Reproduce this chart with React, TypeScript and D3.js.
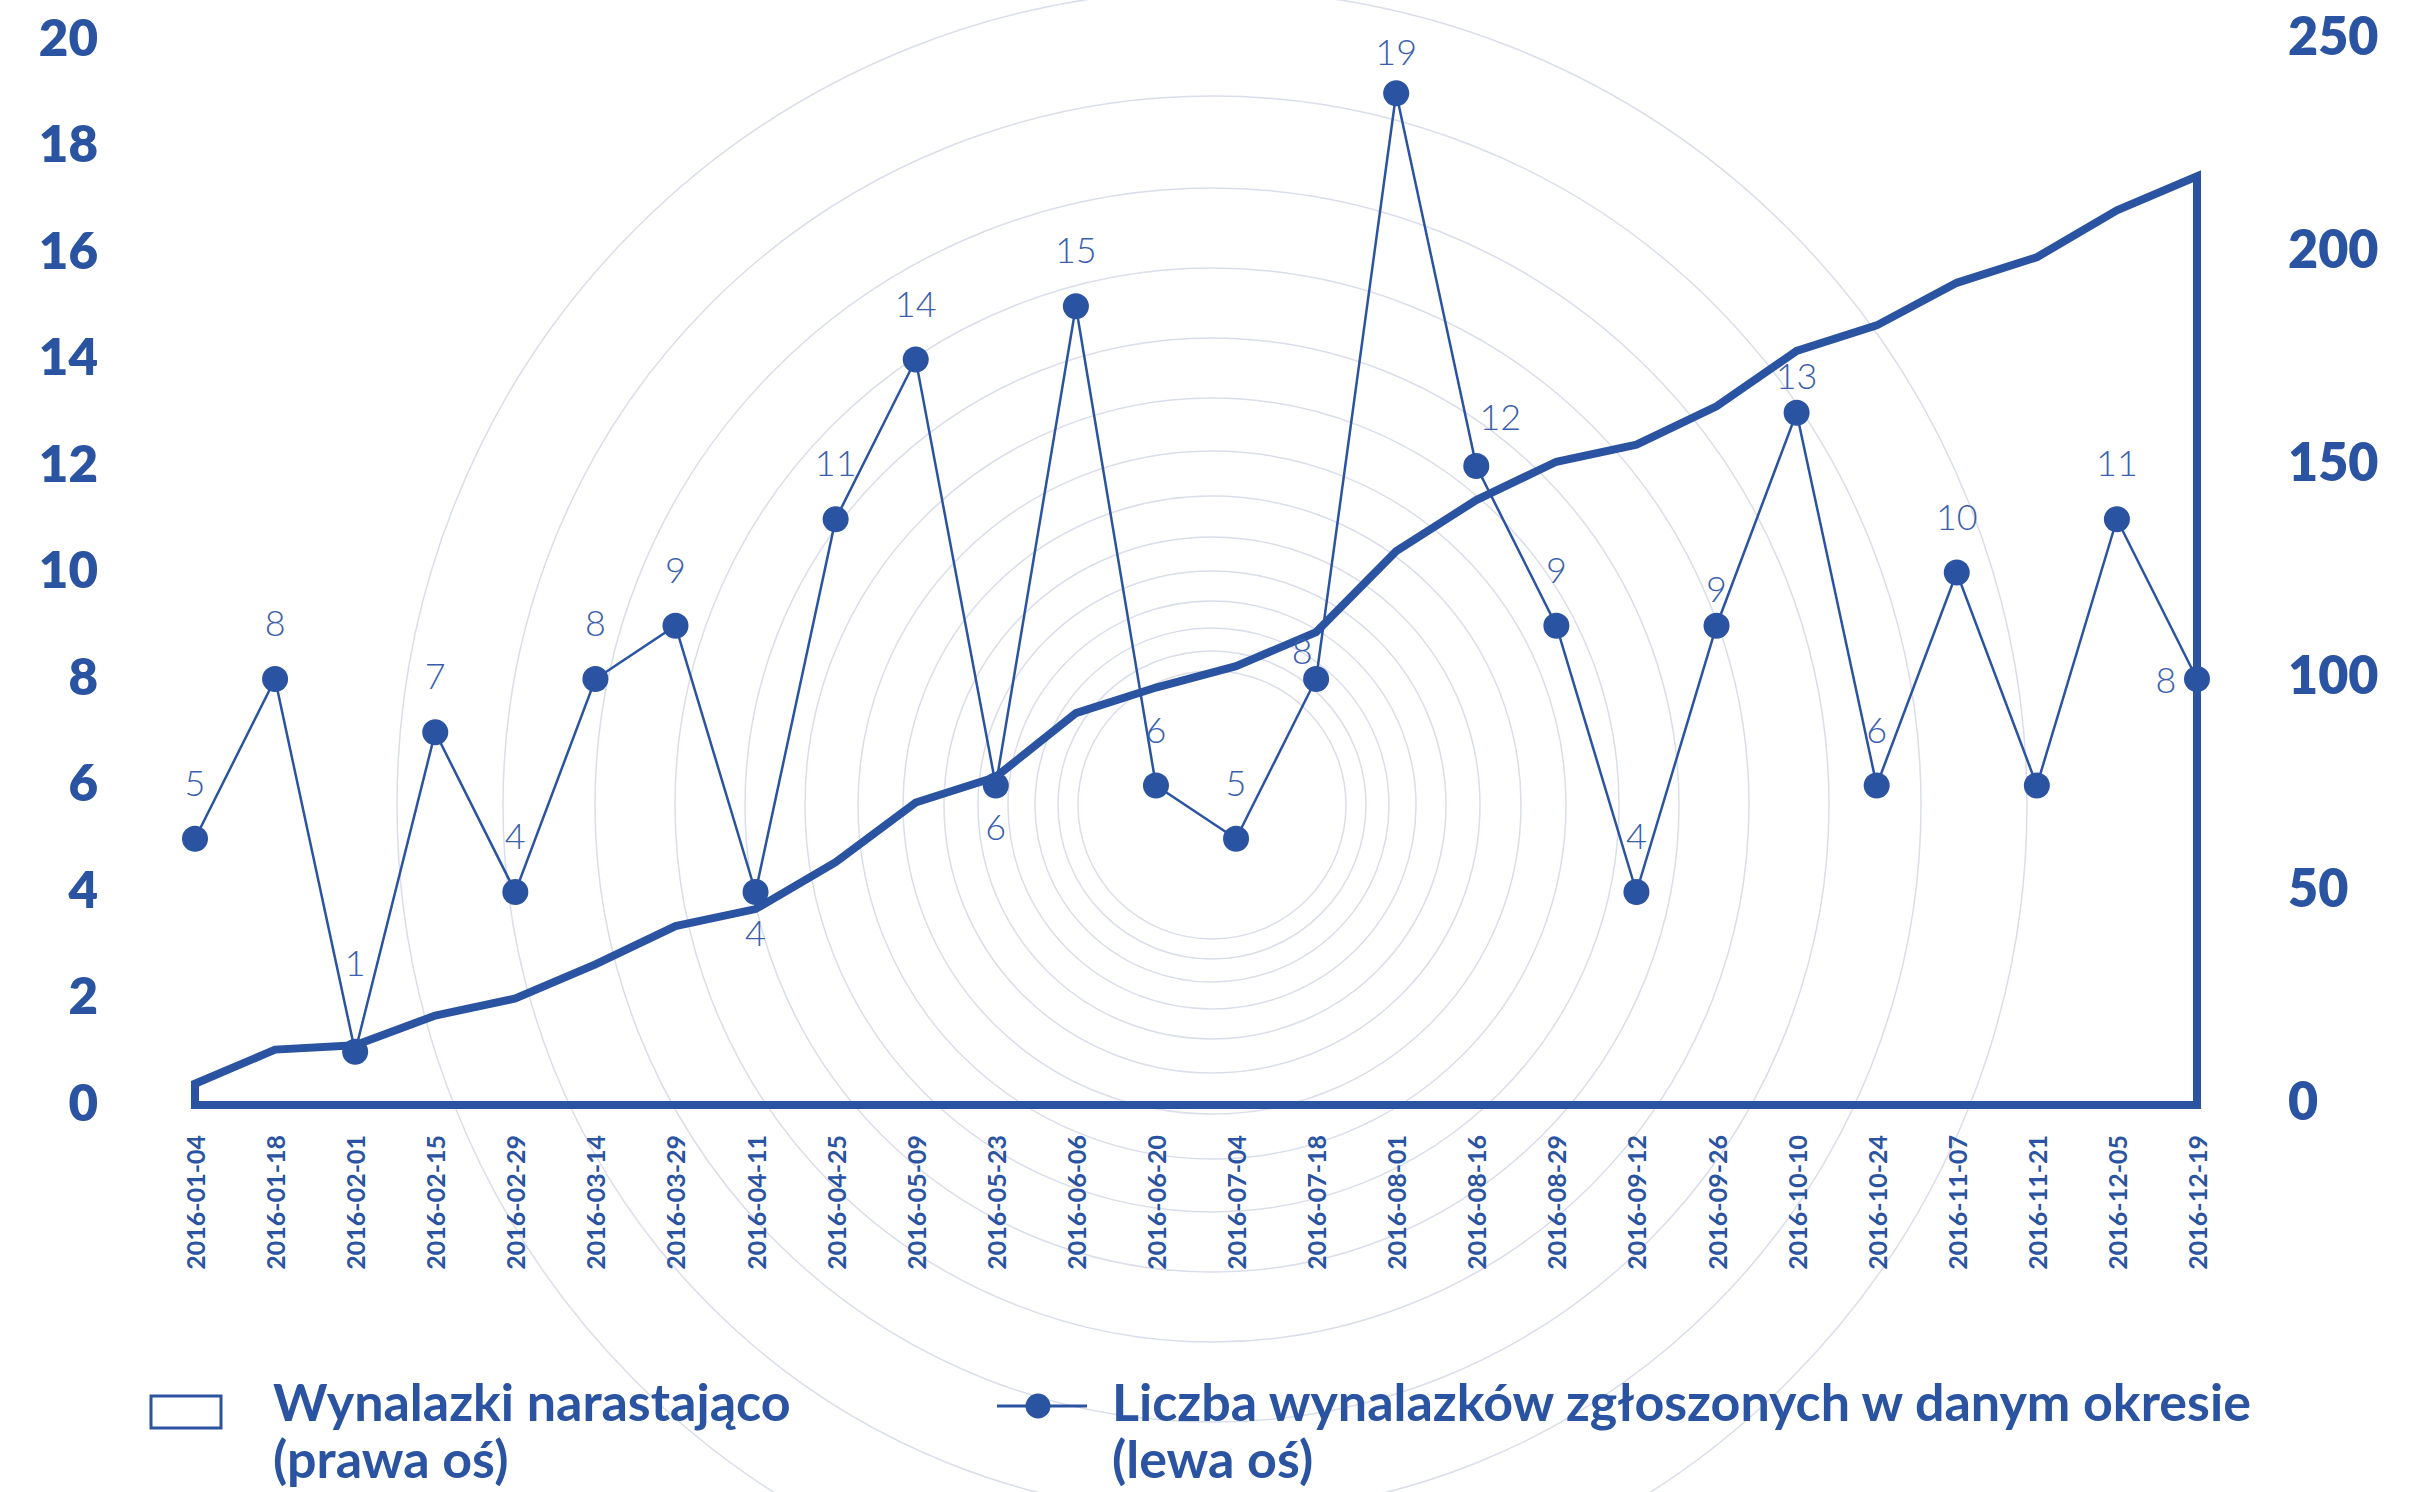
import React from "react";
import * as d3 from "d3";

const dates = [
  "2016-01-04", "2016-01-18", "2016-02-01", "2016-02-15", "2016-02-29", "2016-03-14",
  "2016-03-29", "2016-04-11", "2016-04-25", "2016-05-09", "2016-05-23", "2016-06-06",
  "2016-06-20", "2016-07-04", "2016-07-18", "2016-08-01", "2016-08-16", "2016-08-29",
  "2016-09-12", "2016-09-26", "2016-10-10", "2016-10-24", "2016-11-07", "2016-11-21",
  "2016-12-05", "2016-12-19",
];

// Liczba wynalazków zgłoszonych w danym okresie (lewa oś)
const perPeriod = [5, 8, 1, 7, 4, 8, 9, 4, 11, 14, 6, 15, 6, 5, 8, 19, 12, 9, 4, 9, 13, 6, 10, 6, 11, 8];

// Wynalazki narastająco (prawa oś)
const cumulative = [5, 13, 14, 21, 25, 33, 42, 46, 57, 71, 77, 92, 98, 103, 111, 130, 142, 151, 155, 164, 177, 183, 193, 199, 210, 218];

// where each value label sits relative to its point
const labelPlacement = [
  "top", "top", "high", "top", "top", "top", "top", "bottom", "top", "top", "bottom", "top",
  "top", "top", "topleft", "toptight", "topright", "top", "top", "near", "near", "top", "top", "none",
  "top", "left",
];

const leftTicks = [0, 2, 4, 6, 8, 10, 12, 14, 16, 18, 20];
const rightTicks = [0, 50, 100, 150, 200, 250];

const legendCumulative = ["Wynalazki narastająco", "(prawa oś)"];
const legendPeriod = ["Liczba wynalazków zgłoszonych w danym okresie", "(lewa oś)"];

// decorative background rings
const ringRadii = [134, 154, 177, 204, 234, 268, 309, 354, 407, 467, 537, 617, 709, 815];

const W = 2429;
const H = 1492;
const BLUE = "#2a53a1";
const LABEL_BLUE = "#3a60ad";
const RING = "#dadeeb";
const FONT = "Lato, 'Open Sans', sans-serif";

export default function App() {
  const x = d3.scalePoint<string>().domain(dates).range([195, 2197]).padding(0);
  const yL = d3.scaleLinear().domain([0, 20]).range([1105, 40]);
  const yR = d3.scaleLinear().domain([0, 250]).range([1105, 40]);

  const thinLine = d3
    .line<number>()
    .x((_, i) => x(dates[i]) as number)
    .y((d) => yL(d));

  const cumPts: [number, number][] = [
    [x(dates[0]) as number, yR(0)],
    ...cumulative.map((v, i) => [x(dates[i]) as number, yR(v)] as [number, number]),
    [x(dates[dates.length - 1]) as number, yR(0)],
  ];
  const cumPath = (d3.line()(cumPts) || "") + "Z";

  const cx = 1212;
  const cy = 805;

  const labelPos = (p: string, px: number, py: number) => {
    switch (p) {
      case "bottom":
        return [px, py + 40];
      case "topleft":
        return [px - 14, py - 29];
      case "topright":
        return [px + 24, py - 50];
      case "left":
        return [px - 31, py];
      case "high":
        return [px, py - 90];
      case "near":
        return [px, py - 38];
      case "toptight":
        return [px, py - 42];
      default:
        return [px, py - 57];
    }
  };

  return (
    <svg
      width={W}
      height={H}
      viewBox={`0 0 ${W} ${H}`}
      style={{ position: "absolute", left: 0, top: 0, background: "#fff" }}
      fontFamily={FONT}
    >
      <rect x={0} y={0} width={W} height={H} fill="#fff" />
      <g>
        {ringRadii.map((r) => (
          <circle key={r} cx={cx} cy={cy} r={r} fill="none" stroke={RING} strokeWidth={1.5} />
        ))}
      </g>

      {/* left axis labels */}
      <g>
        {leftTicks.map((t) => (
          <text
            key={"l" + t}
            x={98}
            y={yL(t) - 4}
            textAnchor="end"
            dominantBaseline="central"
            fontSize={51}
            fontWeight={800}
            fill={BLUE}
          >
            {t}
          </text>
        ))}
      </g>
      {/* right axis labels */}
      <g>
        {rightTicks.map((t) => (
          <text
            key={"r" + t}
            x={2288}
            y={yR(t) - 5}
            textAnchor="start"
            dominantBaseline="central"
            fontSize={52}
            fontWeight={800}
            fill={BLUE}
          >
            {t}
          </text>
        ))}
      </g>

      {/* cumulative outline */}
      <path d={cumPath} fill="none" stroke={BLUE} strokeWidth={8} strokeLinejoin="miter" />

      {/* per-period line */}
      <path d={thinLine(perPeriod) || ""} fill="none" stroke={BLUE} strokeWidth={2.5} />
      {perPeriod.map((v, i) => (
        <circle key={"d" + i} cx={x(dates[i]) as number} cy={yL(v)} r={13} fill={BLUE} />
      ))}
      {perPeriod.map((v, i) => {
        const p = labelPlacement[i];
        if (p === "none") return null;
        const [lx, ly] = labelPos(p, x(dates[i]) as number, yL(v));
        return (
          <text
            key={"t" + i}
            x={lx}
            y={ly}
            textAnchor="middle"
            dominantBaseline="central"
            fontSize={36}
            fontWeight={300}
            fill={LABEL_BLUE}
          >
            {v}
          </text>
        );
      })}

      {/* x axis labels */}
      {dates.map((d) => {
        const px = x(d) as number;
        return (
          <text
            key={"x" + d}
            transform={`translate(${px},1135) rotate(-90)`}
            textAnchor="end"
            dominantBaseline="central"
            fontSize={25}
            fontWeight={700}
            fill={BLUE}
          >
            {d}
          </text>
        );
      })}

      {/* legend */}
      <g>
        <rect x={151} y={1396} width={70} height={32} fill="#fff" stroke={BLUE} strokeWidth={3} />
        {legendCumulative.map((s, i) => (
          <text key={"lc" + i} x={273} y={1421 + i * 57} fontSize={52} fontWeight={700} fill={BLUE}>
            {s}
          </text>
        ))}
        <line x1={997} x2={1087} y1={1406} y2={1406} stroke={BLUE} strokeWidth={3} />
        <circle cx={1038} cy={1406} r={12.5} fill={BLUE} />
        {legendPeriod.map((s, i) => (
          <text key={"lp" + i} x={1112} y={1421 + i * 57} fontSize={52} fontWeight={700} fill={BLUE}>
            {s}
          </text>
        ))}
      </g>
    </svg>
  );
}
